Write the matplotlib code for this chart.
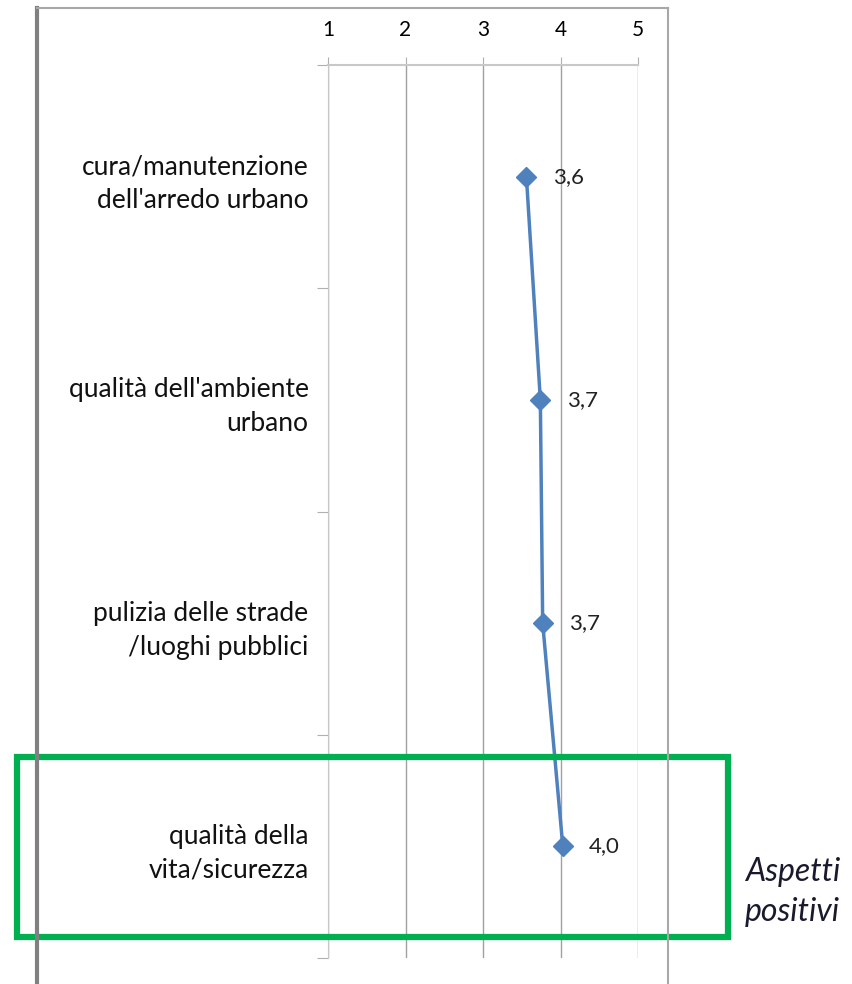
import matplotlib
matplotlib.use("Agg")
import matplotlib.pyplot as plt
from matplotlib.lines import Line2D
from matplotlib.patches import Rectangle

categories = ["cura/manutenzione\ndell'arredo urbano",
              "qualità dell'ambiente\nurbano",
              "pulizia delle strade\n/luoghi pubblici",
              "qualità della\nvita/sicurezza"]
values = [3.56, 3.74, 3.77, 4.03]
value_labels = ["3,6", "3,7", "3,7", "4,0"]
x_ticks = [1, 2, 3, 4, 5]

W, H = 852, 984
fig = plt.figure(figsize=(W / 100, H / 100), dpi=100)
plt.rcParams['font.family'] = ['Lato', 'DejaVu Sans']

ax = fig.add_axes([328 / W, 1 - 958 / H, (638 - 328) / W, (958 - 65) / H])
ypos = [i + 0.5 for i in range(len(categories))]

ax.plot(values, ypos, color='#4F81BD', lw=2.5, marker='D', ms=10,
        markeredgecolor='#4F81BD', zorder=3)
for v, y, lab in zip(values, ypos, value_labels):
    ax.annotate(lab, (v, y), xytext=(19, 0), textcoords='offset points',
                va='center', ha='left', fontsize=16, color='#222222')

ax.set_xlim(1, 5)
ax.set_ylim(len(categories), 0)
ax.xaxis.tick_top()
ax.set_xticks(x_ticks)
ax.set_xticklabels([str(t) for t in x_ticks], fontsize=15)
ax.tick_params(axis='x', length=6, color='#b0b0b0', pad=12)
ax.grid(axis='x', color='#a0a0a0', lw=1)

ax.set_yticks(range(len(categories) + 1))
ax.set_yticklabels([])
ax.set_yticks(ypos, minor=True)
ax.set_yticklabels(categories, minor=True, fontsize=19, ha='right',
                   linespacing=1.45, color='#111111')
ax.tick_params(axis='y', which='major', length=8, color='#b0b0b0')
ax.tick_params(axis='y', which='minor', length=0, pad=14)

for s in ['right', 'bottom']:
    ax.spines[s].set_visible(False)
ax.spines['left'].set_color('#c8c8c8')
ax.spines['top'].set_color('#c8c8c8')
ax.spines['top'].set_linewidth(1.5)

# outer chart frame
fig.add_artist(Line2D([37 / W, 37 / W], [0, 1 - 8 / H], color='#808080', lw=3))
fig.add_artist(Line2D([37 / W, 668 / W], [1 - 8 / H, 1 - 8 / H], color='#a8a8a8', lw=1.5))
fig.add_artist(Line2D([668 / W, 668 / W], [0, 1 - 8 / H], color='#a8a8a8', lw=1.5))

# green highlight box
fig.add_artist(Rectangle((17 / W, 1 - 937 / H), (728 - 17) / W, (937 - 757) / H,
                         fill=False, edgecolor='#00B050', lw=4.5))
fig.text(745 / W, 1 - 872 / H, "Aspetti", fontsize=23, style='italic',
         color='#1a1a2e', va='center', ha='left')
fig.text(745 / W, 1 - 912 / H, "positivi", fontsize=23, style='italic',
         color='#1a1a2e', va='center', ha='left')

fig.savefig("out.png", dpi=100)
